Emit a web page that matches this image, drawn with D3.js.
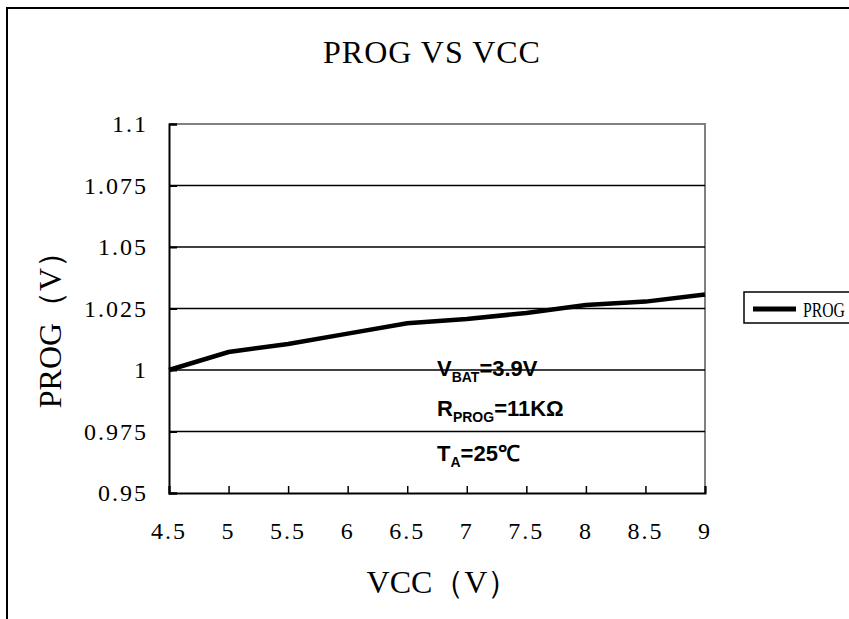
<!DOCTYPE html>
<html>
<head>
<meta charset="utf-8">
<script src="https://cdn.jsdelivr.net/npm/d3@7/dist/d3.min.js"></script>
<style>
  body { margin: 0; background: #fff; }
  .serif { font-family: "Liberation Serif", "DejaVu Serif", serif; fill: #000; }
  .note { font-family: "Liberation Sans", Arial, sans-serif; font-weight: bold; fill: #000; }
</style>
</head>
<body>
<div id="chart"></div>
<script>
// data
const vcc = [4.5, 5, 5.5, 6, 6.5, 7, 7.5, 8, 8.5, 9];
const prog = [1.000, 1.0073, 1.0106, 1.0148, 1.019, 1.0207, 1.0232, 1.0264, 1.0278, 1.0307];
const xTicks = [4.5, 5, 5.5, 6, 6.5, 7, 7.5, 8, 8.5, 9];
const yTicks = [0.95, 0.975, 1, 1.025, 1.05, 1.075, 1.1];
const gridTicks = [0.975, 1, 1.025, 1.05, 1.075];

let width = 849;
let height = 619;
let plotLeft = 169, plotRight = 705, plotTop = 124, plotBottom = 493;

let svg = d3.select("#chart").append("svg")
  .attr("width", width)
  .attr("height", height);

// outer chart frame (cut off at right and bottom)
svg.append("path")
  .attr("d", "M 7,640 L 7,8 L 870,8")
  .attr("fill", "none")
  .attr("stroke", "#000")
  .attr("stroke-width", 2);

let xScale = d3.scaleLinear().domain([4.5, 9]).range([plotLeft, plotRight]);
let yScale = d3.scaleLinear().domain([0.95, 1.1]).range([plotBottom, plotTop]);

// plot area border (gray top and right)
svg.append("path")
  .attr("d", "M " + xScale(4.5) + "," + yScale(1.1) + " L " + xScale(9) + "," + yScale(1.1) + " L " + xScale(9) + "," + yScale(0.95))
  .attr("fill", "none")
  .attr("stroke", "#808080")
  .attr("stroke-width", 2);

// gridlines
svg.selectAll("line.grid")
  .data(gridTicks)
  .enter()
  .append("line")
  .attr("class", "grid")
  .attr("x1", xScale(4.5))
  .attr("x2", xScale(9))
  .attr("y1", d => yScale(d))
  .attr("y2", d => yScale(d))
  .attr("stroke", "#000")
  .attr("stroke-width", 1.3);

// y axis
let yAxis = d3.axisRight(yScale).tickValues(yTicks).tickSize(8).tickFormat("");
svg.append("g")
  .attr("transform", `translate(${plotLeft},0)`)
  .call(yAxis)
  .call(g => g.select(".domain").attr("stroke-width", 2))
  .call(g => g.selectAll(".tick line").attr("stroke-width", 2));

svg.selectAll("text.ylab")
  .data(yTicks)
  .enter()
  .append("text")
  .attr("class", "ylab serif")
  .attr("x", 148)
  .attr("y", d => yScale(d) + 8)
  .attr("text-anchor", "end")
  .attr("font-size", 24)
  .attr("letter-spacing", 2)
  .text(d => d3.format("")(d));

// x axis
let xAxis = d3.axisTop(xScale).tickValues(xTicks).tickSize(7).tickFormat("");
svg.append("g")
  .attr("transform", `translate(0,${plotBottom})`)
  .call(xAxis)
  .call(g => g.select(".domain").attr("stroke-width", 2))
  .call(g => g.selectAll(".tick line").attr("stroke-width", 1.5));

svg.selectAll("text.xlab")
  .data(xTicks)
  .enter()
  .append("text")
  .attr("class", "xlab serif")
  .attr("x", d => xScale(d))
  .attr("y", 539)
  .attr("text-anchor", "middle")
  .attr("font-size", 24)
  .attr("letter-spacing", 2)
  .text(d => d);

// data line
let line = d3.line()
  .x(d => xScale(d[0]))
  .y(d => yScale(d[1]));

svg.append("path")
  .datum(vcc.map((v, i) => [v, prog[i]]))
  .attr("d", line)
  .attr("fill", "none")
  .attr("stroke", "#000")
  .attr("stroke-width", 4.5);

// titles
svg.append("text")
  .attr("class", "serif")
  .attr("x", 432)
  .attr("y", 63)
  .attr("text-anchor", "middle")
  .attr("font-size", 32)
  .attr("letter-spacing", 1)
  .text("PROG VS VCC");

svg.append("text")
  .attr("class", "serif")
  .attr("x", 443)
  .attr("y", 593)
  .attr("text-anchor", "middle")
  .attr("font-size", 32)
  .text("VCC（V）");

svg.append("text")
  .attr("class", "serif")
  .attr("transform", "translate(61,322) rotate(-90)")
  .attr("text-anchor", "middle")
  .attr("font-size", 32)
  .text("PROG（V）");

// legend
svg.append("rect")
  .attr("x", 744)
  .attr("y", 292)
  .attr("width", 120)
  .attr("height", 31)
  .attr("fill", "none")
  .attr("stroke", "#000")
  .attr("stroke-width", 1.5);

svg.append("line")
  .attr("x1", 753)
  .attr("x2", 796)
  .attr("y1", 309)
  .attr("y2", 309)
  .attr("stroke", "#000")
  .attr("stroke-width", 5);

svg.append("text")
  .attr("class", "serif")
  .attr("x", 803)
  .attr("y", 317)
  .attr("font-size", 20)
  .attr("textLength", 42)
  .attr("lengthAdjust", "spacingAndGlyphs")
  .text("PROG");

// test conditions
const notes = [
  { main: "V", sub: "BAT", rest: "=3.9V", y: 376 },
  { main: "R", sub: "PROG", rest: "=11KΩ", y: 416 },
  { main: "T", sub: "A", rest: "=25℃", y: 461 }
];

let noteText = svg.selectAll("text.note")
  .data(notes)
  .enter()
  .append("text")
  .attr("class", "note")
  .attr("x", 437)
  .attr("y", d => d.y)
  .attr("font-size", 22);

noteText.append("tspan").text(d => d.main);
noteText.append("tspan").attr("font-size", 14).attr("dy", 6).text(d => d.sub);
noteText.append("tspan").attr("dy", -6).text(d => d.rest);
</script>
</body>
</html>
